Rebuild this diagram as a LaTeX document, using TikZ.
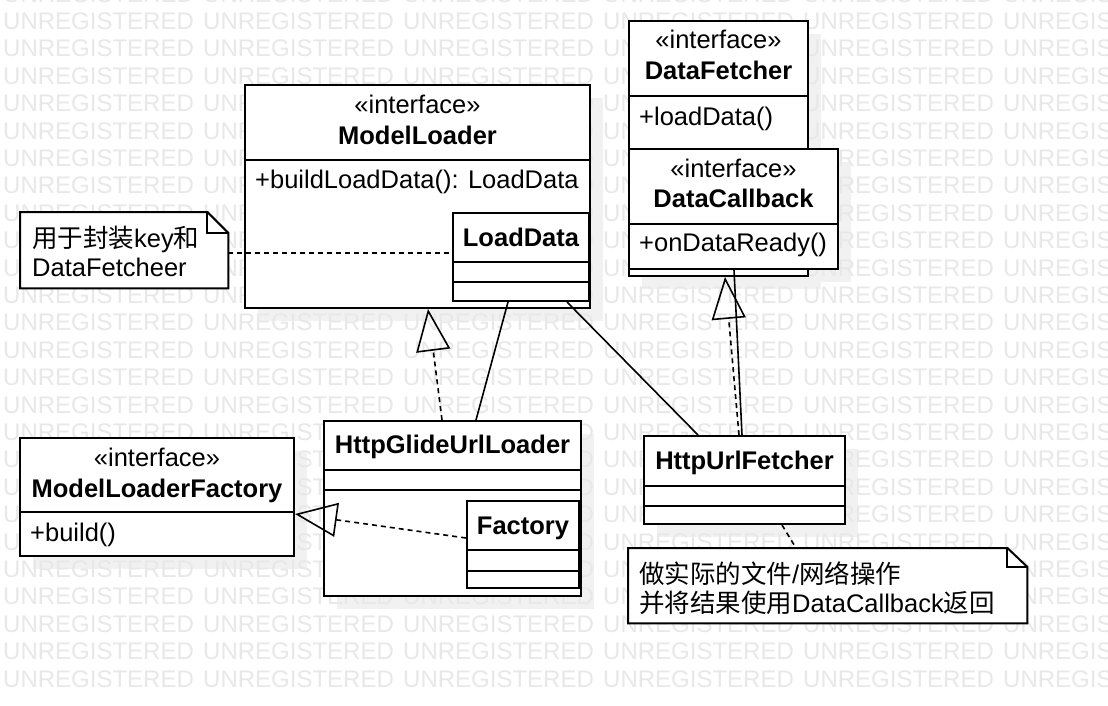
\documentclass[tikz,border=0pt]{standalone}
\usepackage{fontspec}
\setmainfont{Liberation Sans}
\newfontfamily\cjk{Noto Sans CJK SC}
\usetikzlibrary{arrows.meta,calc}
\definecolor{wmgray}{RGB}{232,232,232}
\definecolor{shdgray}{RGB}{241,241,241}
\begin{document}
\begin{tikzpicture}[x=1pt,y=-1pt,
  box/.style={draw=black, line width=2pt, fill=white, inner sep=0pt, anchor=north west},
  div/.style={draw=black, line width=2pt},
  lbl/.style={inner sep=0pt, anchor=base, font=\fontsize{25.5}{30}\selectfont},
  bname/.style={lbl, font=\fontsize{25.5}{30}\selectfont\bfseries},
  meth/.style={lbl, anchor=base west},
  wmtext/.style={inner sep=0pt, anchor=base west, text=wmgray, font=\fontsize{24}{28}\selectfont},
  notebox/.style={inner sep=0pt, anchor=north west},
  notepath/.style={draw=black, line width=2pt, fill=white, line join=miter},
  dashpat/.style={dash pattern=on 5pt off 4pt},
  assoc/.style={draw=black, line width=1.6pt},
  realize/.style={draw=black, line width=1.6pt, dashpat, -{Triangle[open, length=42pt, width=34pt, line width=1.6pt]}},
  anchorline/.style={draw=black, line width=1.6pt, dashpat}
]
\useasboundingbox (0,0) rectangle (1108,706);
\fill[white] (0,0) rectangle (1108,706);

% shadows
\fill[shdgray] (258,98) rectangle (603,321);
\fill[shdgray] (642,34) rectangle (821,289);
\fill[shdgray] (642,162) rectangle (851,282);
\fill[shdgray] (337,434) rectangle (594,609);
\fill[shdgray] (33,451) rectangle (307,569);
\fill[shdgray] (657,449) rectangle (858,537);

% watermark
\foreach \r in {-1,...,24} {
  \foreach \c in {0,...,5} {
    \node[wmtext] (wm-\r-\c) at ({3+200*\c},{29.5+27.4*\r}) {UNREGISTERED};
  }
}

% ModelLoader
\node[box, minimum width=345pt, minimum height=223pt] (ml) at (244,84) {};
\draw[div] ($(ml.north west)+(0,76)$) -- ($(ml.north east)+(0,76)$);
\node[lbl] (mlst) at ($(ml.north)+(0,29.5)$) {«interface»};
\node[bname] (mlnm) at ($(ml.north)+(0,60)$) {ModelLoader};
\node[meth] (mlm) at ($(ml.north west)+(11,104)$) {+buildLoadData(): LoadData};
% LoadData
\node[box, minimum width=136pt, minimum height=88pt] (ld) at (452,212) {};
\draw[div] ($(ld.north west)+(0,50)$) -- ($(ld.north east)+(0,50)$);
\draw[div] ($(ld.north west)+(0,70)$) -- ($(ld.north east)+(0,70)$);
\node[bname] (ldnm) at ($(ld.north)+(0,34)$) {LoadData};

% Note 1
\node[notebox, minimum width=208pt, minimum height=76pt] (n1) at (20,212) {};
\draw[notepath] (n1.north west) -- ($(n1.north east)+(-21,0)$) -- ($(n1.north east)+(0,21)$) -- (n1.south east) -- (n1.south west) -- cycle;
\draw[notepath, fill=none] ($(n1.north east)+(-21,0)$) -- ($(n1.north east)+(-21,21)$) -- ($(n1.north east)+(0,21)$);
\node[meth] (n1a) at ($(n1.north west)+(12,35)$) {{\cjk 用于封装}key{\cjk 和}};
\node[meth] (n1b) at ($(n1.north west)+(12,64)$) {DataFetcheer};

% DataFetcher
\node[box, minimum width=179pt, minimum height=255pt] (df) at (628,20) {};
\draw[div] ($(df.north west)+(0,76)$) -- ($(df.north east)+(0,76)$);
\node[lbl] (dfst) at ($(df.north)+(0,28.5)$) {«interface»};
\node[bname] (dfnm) at ($(df.north)+(0,60)$) {DataFetcher};
\node[meth] (dfm) at ($(df.north west)+(11,105)$) {+loadData()};
% DataCallback
\node[box, minimum width=209pt, minimum height=120pt] (dc) at (628,148) {};
\draw[div] ($(dc.north west)+(0,76)$) -- ($(dc.north east)+(0,76)$);
\node[lbl] (dcst) at ($(dc.north)+(0,29.5)$) {«interface»};
\node[bname] (dcnm) at ($(dc.north)+(0,59)$) {DataCallback};
\node[meth] (dcm) at ($(dc.north west)+(11,103)$) {+onDataReady()};

% HttpGlideUrlLoader
\node[box, minimum width=257pt, minimum height=175pt] (hgl) at (323,420) {};
\draw[div] ($(hgl.north west)+(0,50)$) -- ($(hgl.north east)+(0,50)$);
\draw[div] ($(hgl.north west)+(0,70)$) -- ($(hgl.north east)+(0,70)$);
\node[bname] (hglnm) at ($(hgl.north)+(0,33)$) {HttpGlideUrlLoader};
% Factory
\node[box, minimum width=112pt, minimum height=87pt] (fac) at (466,500) {};
\draw[div] ($(fac.north west)+(0,50)$) -- ($(fac.north east)+(0,50)$);
\draw[div] ($(fac.north west)+(0,71)$) -- ($(fac.north east)+(0,71)$);
\node[bname] (facnm) at ($(fac.north)+(0,34)$) {Factory};

% ModelLoaderFactory
\node[box, minimum width=274pt, minimum height=118pt] (mlf) at (19,437) {};
\draw[div] ($(mlf.north west)+(0,75)$) -- ($(mlf.north east)+(0,75)$);
\node[lbl] (mlfst) at ($(mlf.north)+(0,29)$) {«interface»};
\node[bname] (mlfnm) at ($(mlf.north)+(0,60)$) {ModelLoaderFactory};
\node[meth] (mlfm) at ($(mlf.north west)+(11,104)$) {+build()};

% HttpUrlFetcher
\node[box, minimum width=201pt, minimum height=88pt] (huf) at (643,435) {};
\draw[div] ($(huf.north west)+(0,51)$) -- ($(huf.north east)+(0,51)$);
\draw[div] ($(huf.north west)+(0,71)$) -- ($(huf.north east)+(0,71)$);
\node[bname] (hufnm) at ($(huf.north)+(0,34)$) {HttpUrlFetcher};

% Note 2
\node[notebox, minimum width=399pt, minimum height=75pt] (n2) at (628,548) {};
\draw[notepath] (n2.north west) -- ($(n2.north east)+(-20,0)$) -- ($(n2.north east)+(0,19)$) -- (n2.south east) -- (n2.south west) -- cycle;
\draw[notepath, fill=none] ($(n2.north east)+(-20,0)$) -- ($(n2.north east)+(-20,19)$) -- ($(n2.north east)+(0,19)$);
\node[meth] (n2a) at ($(n2.north west)+(11,35)$) {{\cjk 做实际的文件}/{\cjk 网络操作}};
\node[meth] (n2b) at ($(n2.north west)+(11,64)$) {{\cjk 并将结果使用}DataCallback{\cjk 返回}};

% connectors
\draw[realize] ($(hgl.north west)+(119,0)$) -- ($(ml.south west)+(184,0)$);
\draw[assoc] ($(hgl.north west)+(153,0)$) -- ($(ld.south west)+(56,0)$);
\draw[assoc] ($(huf.north west)+(55,0)$) -- ($(ld.south west)+(115,0)$);
\draw[realize] ($(huf.north west)+(96,0)$) -- ($(df.south west)+(97,0)$);
\draw[assoc] ($(huf.north west)+(99,0)$) -- ($(dc.south west)+(106,0)$);
\draw[realize] ($(fac.north west)+(0,38)$) -- ($(mlf.north east)+(0,77)$);
\draw[anchorline] ($(n1.north east)+(0,41)$) -- ($(ld.north west)+(0,41)$);
\draw[anchorline] ($(huf.south west)+(139,0)$) -- ($(n2.north west)+(168,0)$);
\end{tikzpicture}
\end{document}
